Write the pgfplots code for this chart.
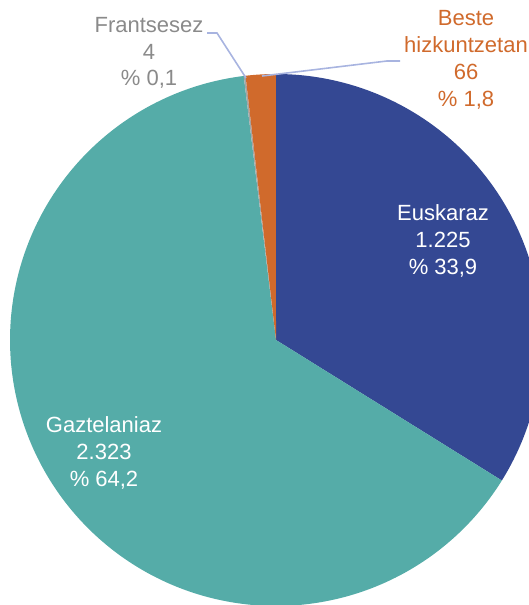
\documentclass[border=0pt]{standalone}
\usepackage{pgfplots}
\pgfplotsset{compat=1.18}
\usepackage{fontspec}
\setmainfont{Liberation Sans}
\definecolor{cEus}{HTML}{344893}
\definecolor{cGaz}{HTML}{55ACA8}
\definecolor{cFra}{HTML}{A5A5A5}
\definecolor{cBes}{HTML}{D06A2C}
\definecolor{cLead}{HTML}{A8B4E0}
\definecolor{cGray}{HTML}{8A8A8A}
% data
\def\vEus{1225}
\def\vGaz{2323}
\def\vFra{4}
\def\vBes{66}
\pgfmathsetmacro{\tot}{\vEus+\vGaz+\vFra+\vBes}
\pgfmathsetmacro{\aEus}{\vEus/\tot*360}
\pgfmathsetmacro{\aGaz}{\vGaz/\tot*360}
\pgfmathsetmacro{\aFra}{\vFra/\tot*360}
\pgfmathsetmacro{\aBes}{\vBes/\tot*360}
% clockwise from 12 o'clock: Euskaraz, Gaztelaniaz, Frantsesez, Beste
\pgfmathsetmacro{\sA}{90}
\pgfmathsetmacro{\sB}{90-\aEus}
\pgfmathsetmacro{\sC}{\sB-\aGaz}
\pgfmathsetmacro{\sD}{\sC-\aFra}
\pgfmathsetmacro{\sE}{\sD-\aBes}
\def\cx{276}
\def\cy{265}
\def\R{266}
\begin{document}
\begin{tikzpicture}
\begin{axis}[
  scale only axis, width=264.5pt, height=302.5pt,
  xmin=0, xmax=529, ymin=0, ymax=605,
  hide axis, clip=true,
]
\addplot[fill=cEus, draw=none, domain=\sB:\sA, samples=120]
  ({\cx+\R*cos(x)},{\cy+\R*sin(x)}) -- (axis cs:\cx,\cy) -- cycle;
\addplot[fill=cGaz, draw=none, domain=\sC:\sB, samples=200]
  ({\cx+\R*cos(x)},{\cy+\R*sin(x)}) -- (axis cs:\cx,\cy) -- cycle;
\addplot[fill=cFra, draw=none, domain=\sD:\sC, samples=5]
  ({\cx+\R*cos(x)},{\cy+\R*sin(x)}) -- (axis cs:\cx,\cy) -- cycle;
\addplot[fill=cBes, draw=none, domain=\sE:\sD, samples=20]
  ({\cx+\R*cos(x)},{\cy+\R*sin(x)}) -- (axis cs:\cx,\cy) -- cycle;
% leader lines
\draw[cLead, line width=0.8pt] (axis cs:207,572) -- (axis cs:217,572) -- (axis cs:246,527);
\draw[cLead, line width=0.8pt] (axis cs:400,544) -- (axis cs:387,544) -- (axis cs:262,529);
% labels
\tikzset{lab/.style={align=center, font=\fontsize{11}{13.4}\selectfont, inner sep=0pt}}
\node[lab, text=white] at (axis cs:443,364) {Euskaraz\\1.225\\\% 33,9};
\node[lab, text=white] at (axis cs:104,152) {Gaztelaniaz\\2.323\\\% 64,2};
\node[lab, text=cGray] at (axis cs:149,552) {Frantsesez\\4\\\% 0,1};
\node[lab, text=cBes] at (axis cs:466,545) {Beste\\hizkuntzetan\\66\\\% 1,8};
\coordinate (BBA) at (axis cs:0,0);
\coordinate (BBB) at (axis cs:529,605);
\end{axis}
\pgfresetboundingbox
\path[use as bounding box] (BBA) rectangle (BBB);
\end{tikzpicture}
\end{document}
